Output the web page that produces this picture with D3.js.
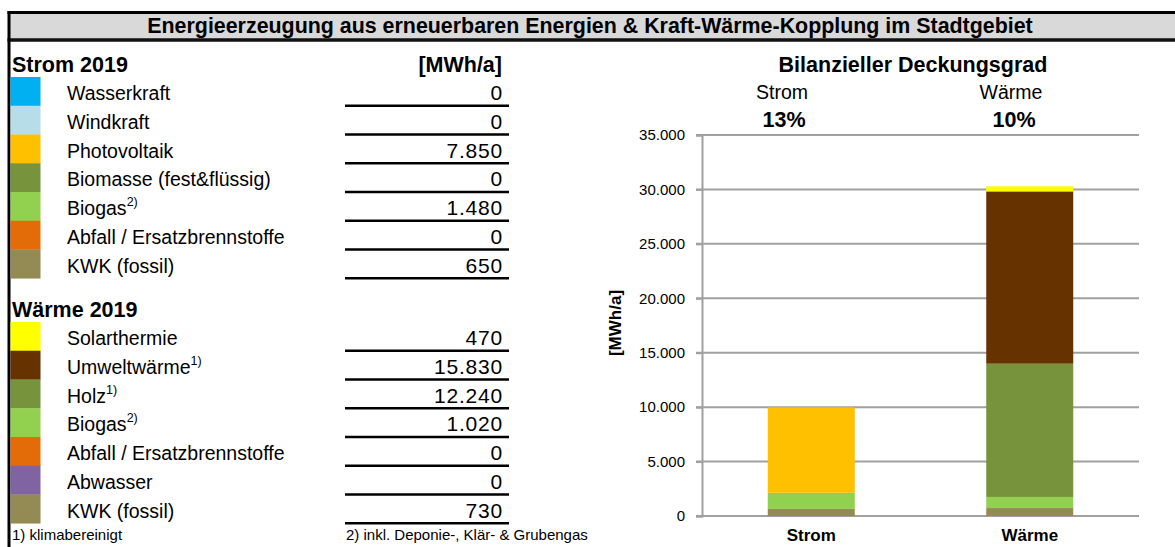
<!DOCTYPE html>
<html><head><meta charset="utf-8">
<script src="https://cdn.jsdelivr.net/npm/d3@7"></script>
<style>body{margin:0;background:#fff;}svg{display:block;font-family:"Liberation Sans",Arial,sans-serif;}</style>
</head><body>
<script>
// ---- data ----
const title = "Energieerzeugung aus erneuerbaren Energien & Kraft-Wärme-Kopplung im Stadtgebiet";
const stromLabels = ["Wasserkraft","Windkraft","Photovoltaik","Biomasse (fest&flüssig)","Biogas","Abfall / Ersatzbrennstoffe","KWK (fossil)"];
const stromSup    = ["","","","","2)","",""];
const stromValues = [0,0,7850,0,1480,0,650];
const stromColors = ["#00b0f0","#b7dde8","#ffc000","#77933c","#92d050","#e36c09","#948a54"];
const waermeLabels = ["Solarthermie","Umweltwärme","Holz","Biogas","Abfall / Ersatzbrennstoffe","Abwasser","KWK (fossil)"];
const waermeSup    = ["","1)","1)","2)","","",""];
const waermeValues = [470,15830,12240,1020,0,0,730];
const waermeColors = ["#ffff00","#663300","#77933c","#92d050","#e36c09","#8064a2","#948a54"];
const categories = ["Strom","Wärme"];
const coverage = ["13%","10%"];
const yTicks = [0,5000,10000,15000,20000,25000,30000,35000];

const W = 1175, H = 547;
const loc = d3.formatLocale({decimal:",", thousands:".", grouping:[3], currency:["","€"]});
const fmt = loc.format(",.0f");

const svg = d3.select("body").append("svg").attr("width",W).attr("height",H);

// frame + title bar
svg.append("rect").attr("x",9).attr("y",13).attr("width",W-9).attr("height",26).attr("fill","#d9d9d9");
svg.append("line").attr("x1",7.5).attr("x2",W).attr("y1",12.5).attr("y2",12.5).attr("stroke","#000").attr("stroke-width",3);
svg.append("line").attr("x1",7.5).attr("x2",W).attr("y1",40).attr("y2",40).attr("stroke","#111").attr("stroke-width",3.5);
svg.append("line").attr("x1",9).attr("x2",9).attr("y1",11).attr("y2",H).attr("stroke","#000").attr("stroke-width",3);
svg.append("text").attr("x",590).attr("y",33).attr("text-anchor","middle").attr("font-size","21.4px").attr("font-weight","bold").text(title);

// ---- table ----
const rowH = 28.75, swX = 10.5, swW = 30, labX = 67, valX = 503, ulX1 = 345, ulX2 = 509;
function table(top, labels, sups, values, colors){
  const g = svg.append("g");
  labels.forEach((lab,i)=>{
    const y0 = top + i*rowH;
    g.append("rect").attr("x",swX).attr("y",y0).attr("width",swW).attr("height",rowH+0.3).attr("fill",colors[i]);
    const t = g.append("text").attr("x",labX).attr("y",y0+23).attr("font-size","19.5px").text(lab);
    if(sups[i]) t.append("tspan").attr("dy",-9).attr("font-size","12.5px").text(sups[i]);
    g.append("text").attr("x",valX).attr("y",y0+23).attr("text-anchor","end").attr("font-size","21px")
      .attr("letter-spacing","0.8px").text(fmt(values[i]));
    g.append("line").attr("x1",ulX1).attr("x2",ulX2).attr("y1",y0+rowH).attr("y2",y0+rowH).attr("stroke","#000").attr("stroke-width",2.5);
  });
}
svg.append("text").attr("x",12).attr("y",72).attr("font-size","21.5px").attr("font-weight","bold").text("Strom 2019");
svg.append("text").attr("x",502).attr("y",72).attr("text-anchor","end").attr("font-size","21.5px").attr("font-weight","bold").text("[MWh/a]");
table(77, stromLabels, stromSup, stromValues, stromColors);
svg.append("text").attr("x",12).attr("y",317).attr("font-size","21.5px").attr("font-weight","bold").text("Wärme 2019");
table(322, waermeLabels, waermeSup, waermeValues, waermeColors);
svg.append("text").attr("x",12).attr("y",540).attr("font-size","15px").text("1) klimabereinigt");
svg.append("text").attr("x",346).attr("y",540).attr("font-size","15px").text("2) inkl. Deponie-, Klär- & Grubengas");

// ---- chart ----
const x0 = 702, x1 = 1139, yB = 516, yT = 135;
const x = d3.scaleBand().domain(categories).range([x0,x1]);
const y = d3.scaleLinear().domain([0,35000]).range([yB,yT]);
const barW = 87;

// gridlines
svg.append("g").selectAll("line").data(yTicks).join("line")
  .attr("x1",x0-6).attr("x2",x1).attr("y1",d=>y(d)).attr("y2",d=>y(d))
  .attr("stroke","#a0a0a0").attr("stroke-width",2);
// axis
const ax = svg.append("g").attr("transform",`translate(${x0},0)`)
  .call(d3.axisLeft(y).tickValues(yTicks).tickFormat(fmt).tickSize(6).tickPadding(11));
ax.select(".domain").attr("stroke","#a0a0a0").attr("stroke-width",2);
ax.selectAll(".tick line").attr("stroke","#a0a0a0").attr("stroke-width",2);
ax.selectAll(".tick text").attr("font-size","15px").attr("font-family","Liberation Sans, Arial, sans-serif").attr("fill","#000");

// stacks (bottom-up = reverse list order)
const series = [
  {cat:"Strom", vals:stromValues, cols:stromColors},
  {cat:"Wärme", vals:waermeValues, cols:waermeColors}
];
series.forEach(s=>{
  let acc = 0;
  const g = svg.append("g");
  for(let i=s.vals.length-1;i>=0;i--){
    const v = s.vals[i];
    if(v<=0) continue;
    const cx = x(s.cat)+x.bandwidth()/2;
    g.append("rect").attr("x",cx-barW/2).attr("width",barW)
      .attr("y",y(acc+v)).attr("height",y(acc)-y(acc+v)).attr("fill",s.cols[i]);
    acc += v;
  }
});
// x labels
svg.append("g").selectAll("text").data(categories).join("text")
  .attr("x",d=>x(d)+x.bandwidth()/2).attr("y",541).attr("text-anchor","middle")
  .attr("font-size","17px").attr("font-weight","bold").text(d=>d);
// y label
svg.append("text").attr("transform","translate(621,323) rotate(-90)").attr("text-anchor","middle")
  .attr("font-size","17px").attr("font-weight","bold").text("[MWh/a]");
// header right
svg.append("text").attr("x",913).attr("y",72).attr("text-anchor","middle").attr("font-size","21.5px").attr("font-weight","bold").text("Bilanzieller Deckungsgrad");
const hx = [782,1011], px = [784,1014];
categories.forEach((c,i)=>{
  svg.append("text").attr("x",hx[i]).attr("y",99).attr("text-anchor","middle").attr("font-size","19.5px").text(c);
  svg.append("text").attr("x",px[i]).attr("y",127).attr("text-anchor","middle").attr("font-size","21.5px").attr("font-weight","bold").text(coverage[i]);
});
</script>
</body></html>
